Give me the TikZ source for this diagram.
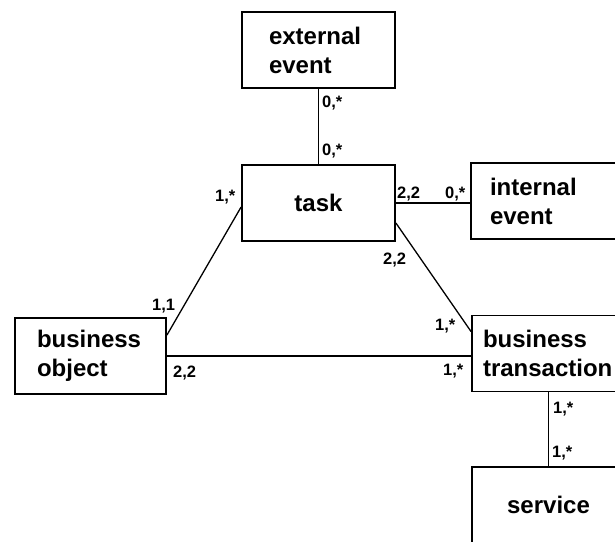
\documentclass[tikz,border=0pt]{standalone}
\usepackage{fontspec}
\setmainfont{Liberation Sans}
\usetikzlibrary{positioning}

\begin{document}
\begin{tikzpicture}[x=1pt, y=-1pt,
  entity/.style={draw, line width=1.8pt, minimum width=153pt, minimum height=76pt,
    font=\fontsize{24}{29}\selectfont\bfseries},
  card/.style={font=\fontsize{16.5}{16.5}\selectfont\bfseries, inner sep=0pt, anchor=base west},
  link/.style={line width=1.3pt}
]
  \useasboundingbox (0,0) rectangle (615,541);
  \clip (0,0) rectangle (615,541);

  % entities
  \node[entity, text width=99pt, inner xsep=27pt, align=left] (extev) at (318.5,50) {external\\event};
  \node[entity] (task) at (318.5,203) {task};
  \node[entity, text width=115pt, inner xsep=19pt, align=left] (intev) at (547.5,201) {internal\\event};
  \node[entity, minimum width=151pt, text width=107pt, inner xsep=22pt, align=left] (bobj) at (90.5,356) {business\\object};
  \node[entity, text width=131pt, inner xsep=11pt, align=left] (btrans) at (548.5,353.5) {business\\transaction};
  \node[entity] (service) at (548.5,505) {service};

  % relationships
  \draw[link] (extev) -- (task);
  \draw[link] (task.east) -- (task.east -| intev.west);
  \draw[link] ([yshift=-18pt]bobj.north east) -- ([yshift=-4pt]task.west);
  \draw[link] ([yshift=-20pt]task.east) -- ([yshift=-17pt]btrans.north west);
  \draw[link] (bobj.east) -- (bobj.east -| btrans.west);
  \draw[link] (btrans) -- (service);

  % cardinalities
  \node[card] (c1) at (322,107) {0,*};
  \node[card] (c2) at (322,155) {0,*};
  \node[card] (c3) at (215,201) {1,*};
  \node[card] (c4) at (152,310) {1,1};
  \node[card] (c5) at (397,198) {2,2};
  \node[card] (c6) at (445,198) {0,*};
  \node[card] (c7) at (383,264) {2,2};
  \node[card] (c8) at (435,330) {1,*};
  \node[card] (c9) at (443,375) {1,*};
  \node[card] (c10) at (173,377) {2,2};
  \node[card] (c11) at (553,413) {1,*};
  \node[card] (c12) at (552,457) {1,*};
\end{tikzpicture}
\end{document}
